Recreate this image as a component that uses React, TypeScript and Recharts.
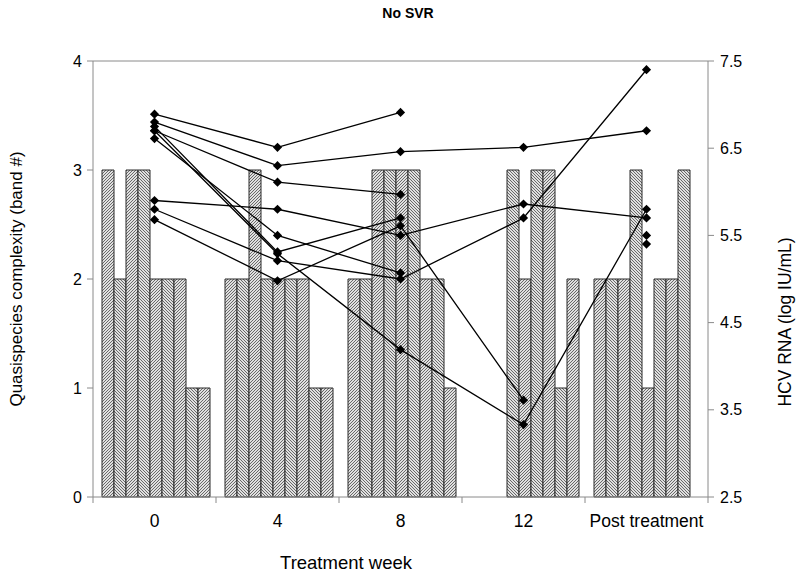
import React from 'react';
import { ComposedChart, Bar, Line, XAxis, YAxis, ReferenceLine } from 'recharts';

const categories = ['0', '4', '8', '12', 'Post treatment'];

// Quasispecies complexity (band #), one array per patient bar
const band1 = [3, 2, 2, null, 2];
const band2 = [2, 2, 2, null, 2];
const band3 = [3, 3, 3, null, 2];
const band4 = [3, 2, 3, 3, 3];
const band5 = [2, 2, 3, 2, 1];
const band6 = [2, 2, 3, 3, 2];
const band7 = [2, 2, 2, 3, 2];
const band8 = [1, 1, 2, 1, 3];
const band9 = [1, 1, 1, 2, null];

// HCV RNA (log IU/mL), one array per patient line
const rna1 = [6.89, 6.51, 6.91, null, null];
const rna2 = [6.8, 6.3, 6.46, 6.51, 6.7];
const rna3 = [6.7, 6.11, 5.97, null, 5.5];
const rna4 = [6.61, 5.5, 5.07, null, 5.4];
const rna5 = [6.75, 5.31, 5.7, null, null];
const rna6 = [6.7, 5.29, 4.19, 3.33, 5.8];
const rna7 = [5.9, 5.8, 5.5, 5.86, 5.7];
const rna8 = [5.8, 5.21, 5.0, 5.7, 7.4];
const rna9 = [5.68, 4.98, 5.61, 3.61, null];

const leftTicks = [0, 1, 2, 3, 4];
const rightTicks = [2.5, 3.5, 4.5, 5.5, 6.5, 7.5];

const bands = [band1, band2, band3, band4, band5, band6, band7, band8, band9];
const rnas = [rna1, rna2, rna3, rna4, rna5, rna6, rna7, rna8, rna9];

const data = categories.map((cat, i) => {
  const row: any = { cat };
  bands.forEach((b, j) => (row['b' + (j + 1)] = b[i]));
  rnas.forEach((r, j) => (row['r' + (j + 1)] = r[i]));
  return row;
});

const FONT = 'Liberation Sans, Arial, sans-serif';
const AXIS = '#8a8a8a';
const X_TICK_MARGIN = 18;

const Diamond = (props: any) => {
  const { cx, cy, value, index, dataKey } = props;
  if (cx == null || cy == null || value == null) return <g key={`${dataKey}-${index}`} />;
  const s = 4.6;
  return (
    <path
      key={`${dataKey}-${index}`}
      d={`M${cx},${cy - s}L${cx + s},${cy}L${cx},${cy + s}L${cx - s},${cy}Z`}
      fill="#000"
    />
  );
};

const CatTick = (props: any) => {
  const { x, y, payload, index, visibleTicksCount } = props;
  const off = payload && payload.offset ? payload.offset : 0;
  const axisY = y - X_TICK_MARGIN;
  const isLast = index === (visibleTicksCount ?? categories.length) - 1;
  return (
    <g>
      <line x1={x - off} x2={x - off} y1={axisY} y2={axisY + 6} stroke={AXIS} />
      {isLast && <line x1={x + off} x2={x + off} y1={axisY} y2={axisY + 6} stroke={AXIS} />}
      <text x={x} y={y} dy="0.71em" textAnchor="middle" fontSize={17.5} fontFamily={FONT} fill="#000">
        {payload.value}
      </text>
    </g>
  );
};

const LeftLabel = (props: any) => {
  const vb = props.viewBox || { x: 0, y: 61, width: 93, height: 436 };
  const x = 16;
  const y = vb.y + vb.height / 2;
  return (
    <text x={x} y={y} transform={`rotate(-90 ${x} ${y})`} textAnchor="middle" dominantBaseline="central" fontSize={17} fontFamily={FONT} fill="#000">
      Quasispecies complexity (band #)
    </text>
  );
};

const RightLabel = () => {
  const x = 785;
  const y = 322;
  return (
    <text x={x} y={y} transform={`rotate(-90 ${x} ${y})`} textAnchor="middle" dominantBaseline="central" fontSize={17.5} fontFamily={FONT} fill="#000">
      HCV RNA (log IU/mL)
    </text>
  );
};

const BottomLabel = () => (
  <text x={346} y={562} textAnchor="middle" dominantBaseline="central" fontSize={18.5} fontFamily={FONT} fill="#000">
    Treatment week
  </text>
);

export default function App() {
  return (
    <div style={{ position: 'absolute', left: 0, top: 0, width: 800, height: 574, background: '#fff', fontFamily: FONT }}>
      <svg width={0} height={0} style={{ position: 'absolute' }}>
        <defs>
          <pattern id="hatchA" patternUnits="userSpaceOnUse" width={3} height={3}>
            <rect width={3} height={3} fill="#e0e0e0" />
            <path d="M-1,1 L1,-1 M0,3 L3,0 M2,4 L4,2" stroke="#4a4a4a" strokeWidth={0.8} />
          </pattern>
          <pattern id="hatchB" patternUnits="userSpaceOnUse" width={3} height={3}>
            <rect width={3} height={3} fill="#e0e0e0" />
            <path d="M-1,2 L1,4 M0,0 L3,3 M2,-1 L4,1" stroke="#4a4a4a" strokeWidth={0.8} />
          </pattern>
        </defs>
      </svg>
      <div style={{ position: 'absolute', left: 408, top: 5, transform: 'translateX(-50%)', fontWeight: 'bold', fontSize: 14, fontFamily: FONT, color: '#000', whiteSpace: 'nowrap' }}>
        No SVR
      </div>
      <ComposedChart
        width={800}
        height={574}
        data={data}
        margin={{ top: 61, right: 0, bottom: 0, left: 0 }}
        barGap={0}
        barCategoryGap={9}
      >
        <XAxis
          dataKey="cat"
          height={77}
          axisLine={{ stroke: AXIS }}
          tickLine={false}
          tickSize={0}
          tickMargin={X_TICK_MARGIN}
          tick={<CatTick />}
          interval={0}
          label={<BottomLabel />}
        />
        <YAxis
          yAxisId="left"
          width={93}
          domain={[0, 4]}
          ticks={leftTicks}
          axisLine={{ stroke: AXIS }}
          tickLine={{ stroke: AXIS }}
          tickSize={6}
          tickMargin={5}
          tick={{ fontSize: 16, fill: '#000', fontFamily: FONT }}
          label={<LeftLabel />}
        />
        <YAxis
          yAxisId="right"
          orientation="right"
          width={92}
          domain={[2.5, 7.5]}
          ticks={rightTicks}
          axisLine={{ stroke: AXIS }}
          tickLine={{ stroke: AXIS }}
          tickSize={6}
          tickMargin={6}
          tick={{ fontSize: 16, fill: '#000', fontFamily: FONT }}
          label={<RightLabel />}
        />
        <ReferenceLine yAxisId="left" y={4} stroke={AXIS} />
        {bands.map((_, j) => (
          <Bar
            key={'b' + j}
            dataKey={'b' + (j + 1)}
            yAxisId="left"
            fill={j % 2 === 0 ? 'url(#hatchA)' : 'url(#hatchB)'}
            stroke="#2a2a2a"
            strokeWidth={1}
            isAnimationActive={false}
          />
        ))}
        {rnas.map((_, j) => (
          <Line
            key={'r' + j}
            dataKey={'r' + (j + 1)}
            yAxisId="right"
            stroke="#000"
            strokeWidth={1.3}
            dot={Diamond}
            activeDot={false}
            isAnimationActive={false}
          />
        ))}
      </ComposedChart>
    </div>
  );
}
